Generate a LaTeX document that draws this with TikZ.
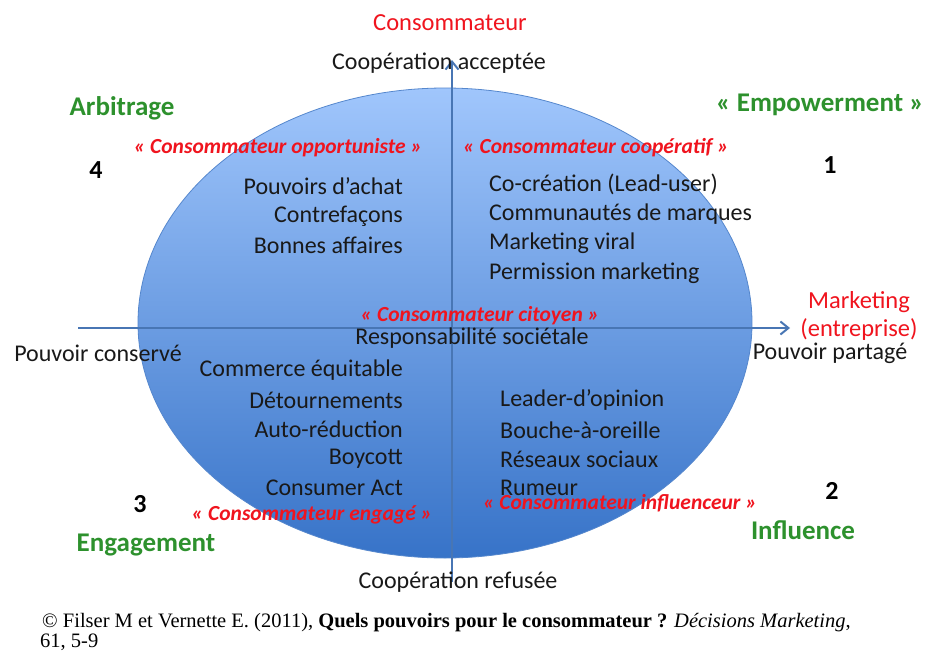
\documentclass[tikz,border=0pt]{standalone}
\usepackage{fontspec}
\setmainfont{Carlito}
\newfontfamily\footfont{Liberation Serif}
\usetikzlibrary{arrows.meta}
\definecolor{axisblue}{RGB}{72,118,180}
\definecolor{elltop}{RGB}{160,198,252}
\definecolor{ellbot}{RGB}{55,115,200}
\definecolor{ellline}{RGB}{85,135,205}
\definecolor{lblred}{RGB}{240,20,30}
\definecolor{lblgreen}{RGB}{45,145,45}
\definecolor{txt}{RGB}{25,25,25}
\tikzset{
  body/.style={font=\fontsize{24}{26}\selectfont, text=txt, inner sep=0pt},
  roleLbl/.style={font=\fontsize{21.5}{24}\selectfont\bfseries\itshape, text=lblred, inner sep=0pt},
  quadLbl/.style={font=\fontsize{27}{30}\selectfont\bfseries, text=lblgreen, inner sep=0pt},
  numLbl/.style={font=\fontsize{26}{28}\selectfont\bfseries, text=black, inner sep=0pt},
  poleLbl/.style={font=\fontsize{24.5}{28}\selectfont, text=lblred, inner sep=0pt},
  footLbl/.style={anchor=base west, inner sep=0pt, font=\footfont\fontsize{20.5}{24}\selectfont, text=black},
  axisline/.style={draw=axisblue, line width=2.2pt, -{Straight Barb[length=8pt,width=13pt,line width=2pt]}},
}
\begin{document}
\begin{tikzpicture}[x=1pt,y=-1pt]
\useasboundingbox[fill=white] (0,0) rectangle (945,653);
% ellipse
\shade[top color=elltop, bottom color=ellbot, draw=ellline, line width=0.8pt] (445,323) ellipse [x radius=307, y radius=235];
% axes
\coordinate (vbot) at (452,582);
\coordinate (vtop) at (452,60);
\coordinate (hleft) at (78,328);
\coordinate (hright) at (790,328);
\draw[axisline] (vbot) -- (vtop);
\draw[axisline] (hleft) -- (hright);
% poles
\node[poleLbl] (cons) at (450,23) {Consommateur};
\node[body] (coopA) at (439,63) {Coopération acceptée};
\node[body] (coopR) at (458,582) {Coopération refusée};
\node[poleLbl, align=center] (mkt) at (859,316) {Marketing\\(entreprise)};
\node[body] (pconserve) at (98,353) {Pouvoir conservé};
\node[body] (ppartage) at (830,353) {Pouvoir partagé};
% quadrant names
\node[quadLbl] (arb) at (122,108) {Arbitrage};
\node[quadLbl] (emp) at (820,105) {« Empowerment »};
\node[quadLbl] (eng) at (146,545) {Engagement};
\node[quadLbl] (infl) at (803,530) {Influence};
\node[numLbl] (n4) at (96,170) {4};
\node[numLbl] (n1) at (830,165) {1};
\node[numLbl] (n3) at (140,504) {3};
\node[numLbl] (n2) at (832,491) {2};
% roles
\node[roleLbl] (ropp) at (278,148) {« Consommateur opportuniste »};
\node[roleLbl] (rcoop) at (596,148) {« Consommateur coopératif »};
\node[roleLbl] (rcit) at (480,316) {« Consommateur citoyen »};
\node[roleLbl] (reng) at (312,515) {« Consommateur engagé »};
\node[roleLbl] (rinf) at (620,503) {« Consommateur influenceur »};
\node[body] (resp) at (472,338) {Responsabilité sociétale};
% quadrant 4
\node[body, anchor=east] (q4a) at (403,186) {Pouvoirs d’achat};
\node[body, anchor=east] (q4b) at (403,216) {Contrefaçons};
\node[body, anchor=east] (q4c) at (403,245) {Bonnes affaires};
% quadrant 1
\node[body, anchor=west] (q1a) at (489,184) {Co-création (Lead-user)};
\node[body, anchor=west] (q1b) at (489,214) {Communautés de marques};
\node[body, anchor=west] (q1c) at (489,243) {Marketing viral};
\node[body, anchor=west] (q1d) at (489,273) {Permission marketing};
% quadrant 3
\node[body, anchor=east] (q3a) at (403,370) {Commerce équitable};
\node[body, anchor=east] (q3b) at (403,400) {Détournements};
\node[body, anchor=east] (q3c) at (403,429) {Auto-réduction};
\node[body, anchor=east] (q3d) at (403,459) {Boycott};
\node[body, anchor=east] (q3e) at (403,488) {Consumer Act};
% quadrant 2
\node[body, anchor=west] (q2a) at (500,400) {Leader-d’opinion};
\node[body, anchor=west] (q2b) at (500,430) {Bouche-à-oreille};
\node[body, anchor=west] (q2c) at (500,459) {Réseaux sociaux};
\node[body, anchor=west] (q2d) at (500,488) {Rumeur};
% footer
\node[footLbl] (foot1) at (42,627) {© Filser M et Vernette E. (2011), \textbf{Quels pouvoirs pour le consommateur ?} \textit{Décisions Marketing},};
\node[footLbl] (foot2) at (40,647) {61, 5-9};
\end{tikzpicture}
\end{document}
